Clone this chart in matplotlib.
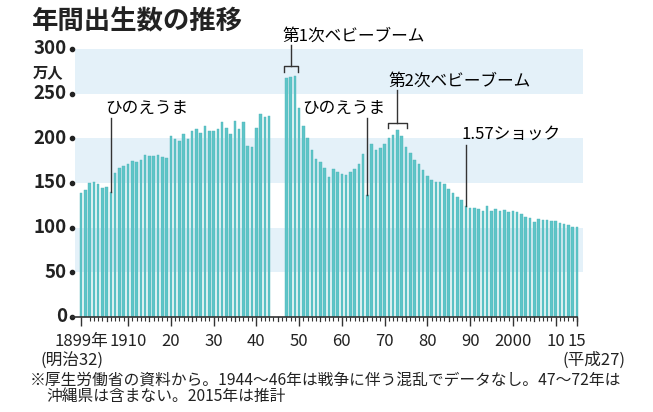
import numpy as np
import matplotlib.pyplot as plt
import matplotlib.transforms as mtransforms

plt.rcParams['font.family'] = ['Noto Sans CJK JP', 'DejaVu Sans']

# annual births (10,000 persons); no data for 1944-46
years = list(range(1899, 1944)) + list(range(1947, 2016))
births = [
    138.7, 142.0, 150.1, 151.0, 148.9, 144.0, 145.2, 139.5, 161.5, 166.3,  # 1899-1908
    169.3, 171.2, 174.7, 173.7, 175.7, 180.8, 180.0, 180.4, 181.3, 179.2,  # 1909-1918
    177.8, 202.6, 199.1, 196.9, 204.3, 199.8, 208.6, 210.5, 206.1, 213.6,  # 1919-1928
    207.7, 208.5, 210.3, 218.3, 212.1, 204.4, 219.1, 210.2, 218.1, 191.7,  # 1929-1938
    190.2, 211.6, 227.7, 223.4, 225.4,                                     # 1939-1943
    267.9, 268.2, 269.7, 233.8, 213.8, 200.5, 186.8, 177.0, 173.1, 166.5,  # 1947-1956
    156.7, 165.3, 162.6, 160.6, 158.9, 161.9, 166.0, 171.7, 182.4, 136.1,  # 1957-1966
    193.6, 187.2, 189.0, 193.4, 200.1, 203.9, 209.2, 203.0, 190.1, 183.3,  # 1967-1976
    175.5, 170.9, 164.3, 157.7, 152.9, 151.5, 150.9, 149.0, 143.2, 138.3,  # 1977-1986
    134.7, 131.4, 124.7, 122.2, 122.3, 120.9, 118.8, 123.8, 118.7, 120.7,  # 1987-1996
    119.2, 120.3, 117.8, 119.1, 117.1, 115.4, 112.4, 111.1, 106.3, 109.3,  # 1997-2006
    109.0, 109.1, 107.0, 107.1, 105.1, 103.7, 103.0, 100.4, 100.8,         # 2007-2015
]
birth_of = dict(zip(years, births))

ytick_vals = [0, 50, 100, 150, 200, 250, 300]
xtick_years = [1899, 1910, 1920, 1930, 1940, 1950, 1960, 1970, 1980, 1990, 2000, 2010, 2015]
xtick_labels = ['1899年', '1910', '20', '30', '40', '50', '60', '70', '80', '90', '2000', '10', '15']

bar_color = '#5ec5c8'
band_color = '#e4f1f9'
line_color = '#333333'

fig = plt.figure(figsize=(6.53, 4.12), dpi=100)
ax = fig.add_axes([75 / 653, 95 / 412, 508 / 653, 268 / 412])
ax.set_xlim(1897.6, 2016.4)
ax.set_ylim(0, 300)

for lo in (50, 150, 250):
    ax.axhspan(lo, lo + 50, color=band_color, lw=0, zorder=0)

ax.bar(years, births, width=0.6, color=bar_color, edgecolor='#4fb5b9', linewidth=0.3, zorder=2)

for s in ax.spines.values():
    s.set_visible(False)

# baseline
ax.plot([1896.9, 2015], [0, 0], color=line_color, lw=1.2, clip_on=False, zorder=3)

# y labels with dots
trans = mtransforms.blended_transform_factory(ax.transAxes, ax.transData)
ax.set_yticks([])
for v in ytick_vals:
    ax.text(-0.016, v, str(v), transform=trans, ha='right', va='center',
            fontsize=13.5, fontweight='bold', color='#222222')
    ax.plot([-0.006], [v], 'o', color='#222222', ms=3, transform=trans, clip_on=False)
ax.text(-0.083, 274, '万人', transform=trans, ha='left', va='center',
        fontsize=11, fontweight='bold', color='#222222')

# x ticks
ax.set_xticks(xtick_years)
ax.set_xticklabels(xtick_labels, fontsize=12, color='#222222')
ax.set_xticks([y for y in range(1899, 2016) if y % 5 != 0 or y in (1899,)], minor=True)
ax.tick_params(axis='x', which='major', length=6.5, width=1, color=line_color, pad=5)
ax.tick_params(axis='x', which='minor', length=3, width=0.8, color=line_color)
mid = [y for y in range(1905, 2016, 10)]
for y in mid:
    ax.plot([y, y], [0, -5.0], color=line_color, lw=0.9, clip_on=False, zorder=3)

ax.text(1897.0, -50, '(明治32)', ha='center', va='center', fontsize=12, color='#222222', clip_on=False)
ax.text(2019.0, -48.5, '(平成27)', ha='center', va='center', fontsize=12, color='#222222', clip_on=False)

# annotations
def pointer(year, top):
    ax.plot([year, year], [top, birth_of[year]], color=line_color, lw=1, zorder=3)

ax.text(1904.6, 234, 'ひのえうま', ha='left', va='center', fontsize=12)
pointer(1906, 223)
ax.text(1970.1, 233, 'ひのえうま', ha='right', va='center', fontsize=12)
pointer(1966, 223)
ax.text(1988.1, 205, '1.57ショック', ha='left', va='center', fontsize=12)
pointer(1989, 192.5)

def bracket(cx, half, top, foot, stem):
    ax.plot([cx - half, cx - half, cx + half, cx + half], [foot, top, top, foot],
            color=line_color, lw=1, clip_on=False, zorder=3)
    ax.plot([cx, cx], [top, stem], color=line_color, lw=1, clip_on=False, zorder=3)

ax.text(1946.0, 314, '第1次ベビーブーム', ha='left', va='center', fontsize=12, clip_on=False)
bracket(1948.1, 1.7, 281, 274, 304)
ax.text(1970.8, 264, '第2次ベビーブーム', ha='left', va='center', fontsize=12)
bracket(1972.95, 2.2, 217.5, 211.5, 254)

# title and note
fig.text(32 / 653, 1 - 22 / 412, '年間出生数の推移', ha='left', va='center',
         fontsize=19, fontweight='bold', color='#222222')
fig.text(30 / 653, 1 - 380 / 412,
         '※厚生労働省の資料から。1944～46年は戦争に伴う混乱でデータなし。47～72年は',
         ha='left', va='center', fontsize=11.3, color='#222222')
fig.text(46 / 653, 1 - 396 / 412, '沖縄県は含まない。2015年は推計',
         ha='left', va='center', fontsize=11.3, color='#222222')

fig.savefig('out.png', dpi=100)
